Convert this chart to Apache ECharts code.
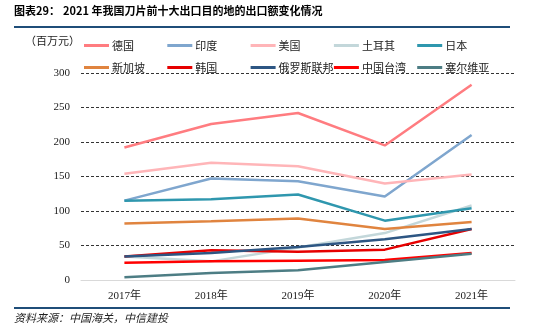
<!DOCTYPE html>
<html><head><meta charset="utf-8">
<script src="https://cdn.jsdelivr.net/npm/echarts@6/dist/echarts.min.js"></script>
<style>html,body{margin:0;padding:0;background:#fff}#c{width:550px;height:330px}</style>
</head><body><div id="c"></div>
<script>
const categories = ['2017年','2018年','2019年','2020年','2021年'];
const seriesNames = ['德国','印度','美国','土耳其','日本','新加坡','韩国','俄罗斯联邦','中国台湾','塞尔维亚'];
const germany   = [192, 226, 242, 195, 283];
const india     = [115, 147, 143, 121, 210];
const usa       = [154, 170, 165, 140, 153];
const turkey    = [34, 27, 47, 68, 108];
const japan     = [115, 117, 124, 86, 104];
const singapore = [82, 85, 89, 74, 84];
const korea     = [34, 43, 41, 44, 74];
const russia    = [34, 39, 48, 59, 74];
const taiwan    = [25, 27, 28, 29, 39];
const serbia    = [4, 10, 14, 26, 38];
const yTicks    = [0, 50, 100, 150, 200, 250, 300];
const values = [germany, india, usa, turkey, japan, singapore, korea, russia, taiwan, serbia];
const colors = ['#FF7C80','#7FA6CE','#FFB5B8','#C3D7DA','#2F97AE','#E0843F','#E60000','#2D5683','#FF0000','#4D7D84'];
const serif = '"Liberation Serif","Noto Sans CJK SC",serif';
const cjk = '"Noto Sans CJK SC",sans-serif';

const legends = seriesNames.map((n, i) => ({
  data: [n], left: 79 + (i % 5) * 83.3, top: i < 5 ? 35 : 57,
  icon: 'rect', itemWidth: 25, itemHeight: 3, itemGap: 0,
  textStyle: {fontFamily: cjk, fontSize: 11, color: '#222', padding: [0,0,0,-2]}
}));

const chart = echarts.init(document.getElementById('c'));
chart.setOption({
  animation: false,
  color: colors,
  grid: {left: 81, right: 35, top: 73, bottom: 50},
  legend: legends,
  graphic: [
    {type: 'text', left: 14, top: 5, style: {text: '图表29：', fontFamily: cjk, fontWeight: 'bold', fontSize: 11, fill: '#000'}},
    {type: 'text', left: 63, top: 5, style: {text: '2021 年我国刀片前十大出口目的地的出口额变化情况', fontFamily: cjk, fontWeight: 'bold', fontSize: 11, fill: '#000'}},
    {type: 'line', shape: {x1: 14, y1: 27, x2: 510, y2: 27}, style: {stroke: '#1F4E79', lineWidth: 2}},
    {type: 'text', left: 25, top: 35, style: {text: '（百万元）', fontFamily: cjk, fontSize: 11, fill: '#222'}},
    {type: 'line', shape: {x1: 14, y1: 308, x2: 510, y2: 308}, style: {stroke: '#1F4E79', lineWidth: 2}},
    {type: 'text', left: 14, top: 312, style: {text: '资料来源：中国海关，中信建投', fontFamily: cjk, fontStyle: 'italic', fontSize: 11, fill: '#222'}}
  ],
  xAxis: {
    type: 'category', data: categories, boundaryGap: true,
    axisLine: {show: true, lineStyle: {color: '#D9D9D9', width: 1}},
    axisTick: {show: false},
    axisLabel: {fontFamily: serif, fontSize: 11, color: '#222', margin: 11}
  },
  yAxis: {
    type: 'value', min: yTicks[0], max: yTicks[yTicks.length-1], interval: 50,
    axisLine: {show: false}, axisTick: {show: false},
    axisLabel: {fontFamily: serif, fontSize: 11, color: '#222', margin: 11},
    splitLine: {lineStyle: {color: '#333', type: [3, 2], width: 1}}
  },
  series: seriesNames.map((n, i) => ({
    name: n, type: 'line', data: values[i], showSymbol: false, symbol: 'none',
    lineStyle: {width: 2.5, color: colors[i]}, z: 2 + i
  }))
});
</script></body></html>
